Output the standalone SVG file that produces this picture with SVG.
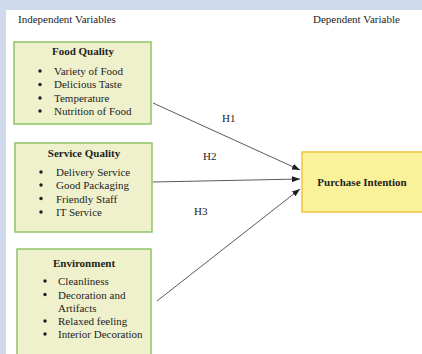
<svg xmlns="http://www.w3.org/2000/svg" width="422" height="354" viewBox="0 0 422 354">
  <style>
    text { font-family: "Liberation Serif", "Times New Roman", serif; font-size: 11px; fill: #1e1e1e; }
    .title { font-weight: bold; text-anchor: middle; }
    .iv { fill: #eef1cb; stroke: #8cc46a; stroke-width: 1.5; }
    .dv { fill: #f9f29b; stroke: #f2c443; stroke-width: 1.5; }
    .edge { stroke: #5a5a5a; stroke-width: 1; fill: none; }
    .dot { fill: #1e1e1e; }
  </style>
  <defs>
    <marker id="arrow" markerWidth="8" markerHeight="6" refX="8" refY="3" orient="auto" markerUnits="userSpaceOnUse">
      <path d="M0,0 L8,3 L0,6 Z" fill="#1e1e1e"/>
    </marker>
  </defs>

  <!-- page frame -->
  <rect x="0" y="0" width="422" height="354" fill="#cfdbec"/>
  <rect x="6" y="10" width="416" height="344" fill="#ffffff"/>

  <!-- column headers -->
  <text x="18" y="23">Independent Variables</text>
  <text x="313" y="23">Dependent Variable</text>

  <!-- connectors -->
  <g id="connectors">
    <line class="edge" x1="153" y1="103" x2="300" y2="170" marker-end="url(#arrow)"/>
    <line class="edge" x1="153" y1="182" x2="300" y2="179" marker-end="url(#arrow)"/>
    <line class="edge" x1="157" y1="301" x2="300" y2="189" marker-end="url(#arrow)"/>
    <text x="222" y="122">H1</text>
    <text x="203" y="160">H2</text>
    <text x="194" y="215">H3</text>
  </g>

  <g id="food-quality">
    <rect class="iv" x="14" y="42" width="137" height="82"/>
    <text class="title" x="83" y="55">Food Quality</text>
    <circle class="dot" cx="40" cy="71" r="1.7"/>
    <circle class="dot" cx="40" cy="84.5" r="1.7"/>
    <circle class="dot" cx="40" cy="98" r="1.7"/>
    <circle class="dot" cx="40" cy="111" r="1.7"/>
    <text x="54" y="75">Variety of Food</text>
    <text x="54" y="88">Delicious Taste</text>
    <text x="54" y="101.5">Temperature</text>
    <text x="54" y="115">Nutrition of Food</text>
  </g>

  <g id="service-quality">
    <rect class="iv" x="15" y="143" width="137" height="89"/>
    <text class="title" x="84" y="157">Service Quality</text>
    <circle class="dot" cx="41" cy="172" r="1.7"/>
    <circle class="dot" cx="41" cy="185" r="1.7"/>
    <circle class="dot" cx="41" cy="198.5" r="1.7"/>
    <circle class="dot" cx="41" cy="212" r="1.7"/>
    <text x="56" y="176">Delivery Service</text>
    <text x="56" y="189">Good Packaging</text>
    <text x="56" y="202.5">Friendly Staff</text>
    <text x="56" y="216">IT Service</text>
  </g>

  <g id="environment">
    <rect class="iv" x="17" y="249" width="134" height="110"/>
    <text class="title" x="84" y="267">Environment</text>
    <circle class="dot" cx="45" cy="281" r="1.7"/>
    <circle class="dot" cx="45" cy="294.5" r="1.7"/>
    <circle class="dot" cx="45" cy="321" r="1.7"/>
    <circle class="dot" cx="45" cy="334" r="1.7"/>
    <text x="58" y="285">Cleanliness</text>
    <text x="58" y="298.5">Decoration and</text>
    <text x="58" y="311.5">Artifacts</text>
    <text x="58" y="325">Relaxed feeling</text>
    <text x="58" y="338">Interior Decoration</text>
  </g>

  <g id="purchase-intention">
    <rect class="dv" x="302" y="152" width="122" height="60"/>
    <text class="title" x="362" y="186">Purchase Intention</text>
  </g>
</svg>
